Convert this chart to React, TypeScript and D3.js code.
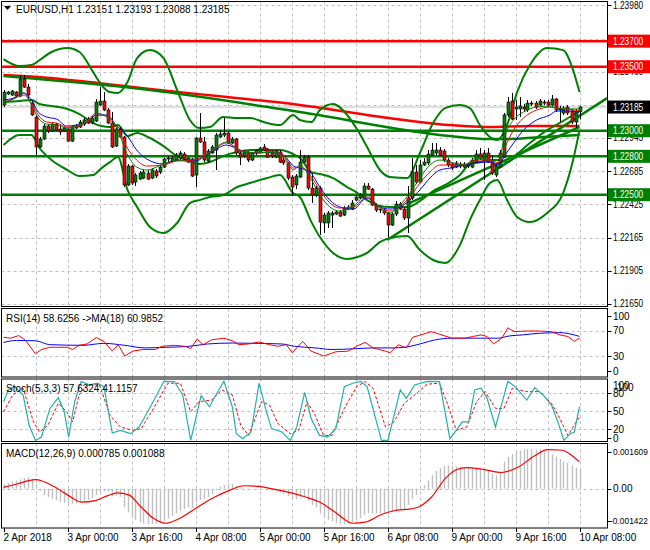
import React from "react";
import * as d3 from "d3";

// ---------------- DATA ----------------
const timeLabels = ["2 Apr 2018", "3 Apr 00:00", "3 Apr 16:00", "4 Apr 08:00", "5 Apr 00:00", "5 Apr 16:00", "6 Apr 08:00", "9 Apr 00:00", "9 Apr 16:00", "10 Apr 08:00"];
const timeLabelBars = [0, 16, 32, 48, 64, 80, 96, 112, 128, 144];

const priceTickLabels = ["1.23980", "1.23720", "1.23460", "1.23200", "1.22945", "1.22685", "1.22425", "1.22165", "1.21905", "1.21650"];
// labels fully hidden behind the coloured price tags in the reference
const hiddenTickLabels = ["1.23720", "1.23200"];

const openP = [1.23201,1.23287,1.23279,1.23302,1.23271,1.23404,1.23341,1.23216,1.23107,1.22873,1.22935,1.23037,1.22998,1.23052,1.23013,1.22998,1.23013,1.22919,1.23021,1.23029,1.23052,1.23091,1.23060,1.23076,1.23201,1.23232,1.23162,1.23060,1.22880,1.23013,1.22951,1.22576,1.22724,1.22599,1.22622,1.22630,1.22669,1.22630,1.22685,1.22677,1.22716,1.22779,1.22763,1.22771,1.22787,1.22818,1.22755,1.22779,1.22654,1.22943,1.22912,1.22763,1.22826,1.22849,1.22951,1.22966,1.22982,1.22904,1.22935,1.22826,1.22802,1.22826,1.22771,1.22826,1.22833,1.22873,1.22857,1.22833,1.22794,1.22833,1.22771,1.22748,1.22638,1.22576,1.22638,1.22755,1.22794,1.22552,1.22497,1.22552,1.22279,1.22279,1.22341,1.22349,1.22365,1.22341,1.22388,1.22388,1.22458,1.22474,1.22482,1.22568,1.22544,1.22419,1.22380,1.22380,1.22357,1.22263,1.22349,1.22427,1.22388,1.22318,1.22474,1.22677,1.22599,1.22732,1.22748,1.22810,1.22826,1.22849,1.22841,1.22771,1.22740,1.22716,1.22740,1.22716,1.22732,1.22716,1.22755,1.22818,1.22771,1.22826,1.22771,1.22654,1.22716,1.22794,1.23123,1.23232,1.23170,1.23170,1.23185,1.23162,1.23209,1.23216,1.23201,1.23224,1.23224,1.23201,1.23248,1.23162,1.23138,1.23185,1.23154,1.23068,1.23151];
const highP = [1.23318,1.23310,1.23318,1.23310,1.23435,1.23435,1.23365,1.23240,1.23123,1.22951,1.23052,1.23052,1.23068,1.23060,1.23044,1.23029,1.23021,1.23037,1.23052,1.23084,1.23099,1.23107,1.23115,1.23248,1.23341,1.23302,1.23177,1.23146,1.23029,1.23029,1.22959,1.22740,1.22732,1.22669,1.22685,1.22701,1.22693,1.22708,1.22701,1.22732,1.22787,1.22802,1.22802,1.22826,1.22841,1.22833,1.22794,1.22787,1.22951,1.23138,1.22951,1.22857,1.22888,1.22982,1.23005,1.23099,1.22998,1.22951,1.22943,1.22833,1.22849,1.22841,1.22833,1.22857,1.22873,1.22896,1.22865,1.22849,1.22849,1.22849,1.22787,1.22755,1.22654,1.22662,1.22849,1.22810,1.22810,1.22669,1.22568,1.22568,1.22357,1.22372,1.22372,1.22380,1.22380,1.22411,1.22419,1.22458,1.22497,1.22513,1.22591,1.22591,1.22552,1.22435,1.22404,1.22396,1.22365,1.22365,1.22451,1.22443,1.22404,1.22568,1.22787,1.22732,1.22771,1.22787,1.22849,1.22904,1.22904,1.22873,1.22857,1.22787,1.22755,1.22763,1.22755,1.22755,1.22748,1.22787,1.22849,1.22865,1.22849,1.22865,1.22810,1.22740,1.22849,1.23138,1.23263,1.23295,1.23240,1.23263,1.23209,1.23240,1.23232,1.23232,1.23248,1.23240,1.23240,1.23279,1.23255,1.23193,1.23193,1.23201,1.23170,1.23170,1.23193];
const lowP = [1.23185,1.23279,1.23271,1.23263,1.23263,1.23334,1.23240,1.23115,1.22810,1.22865,1.22927,1.22982,1.22990,1.22998,1.22966,1.22990,1.22912,1.22912,1.23013,1.23021,1.23037,1.23052,1.23052,1.23068,1.23193,1.23154,1.23052,1.22865,1.22873,1.22943,1.22560,1.22568,1.22576,1.22568,1.22615,1.22622,1.22615,1.22622,1.22630,1.22662,1.22708,1.22755,1.22755,1.22763,1.22771,1.22771,1.22748,1.22638,1.22560,1.22904,1.22755,1.22748,1.22818,1.22693,1.22943,1.22951,1.22896,1.22896,1.22810,1.22732,1.22787,1.22755,1.22763,1.22810,1.22826,1.22841,1.22787,1.22787,1.22787,1.22748,1.22732,1.22615,1.22490,1.22544,1.22630,1.22748,1.22537,1.22435,1.22482,1.22185,1.22201,1.22240,1.22240,1.22341,1.22326,1.22333,1.22380,1.22380,1.22451,1.22466,1.22474,1.22537,1.22411,1.22365,1.22357,1.22341,1.22169,1.22255,1.22333,1.22380,1.22302,1.22201,1.22458,1.22583,1.22591,1.22724,1.22732,1.22802,1.22810,1.22802,1.22755,1.22716,1.22693,1.22708,1.22708,1.22708,1.22708,1.22708,1.22748,1.22771,1.22615,1.22748,1.22654,1.22638,1.22708,1.22787,1.23107,1.23084,1.23084,1.23107,1.23146,1.23146,1.23193,1.23170,1.23193,1.23201,1.23185,1.23193,1.23146,1.23068,1.23123,1.23123,1.23052,1.23021,1.23088];
const closeP = [1.23302,1.23302,1.23310,1.23271,1.23404,1.23341,1.23279,1.23123,1.22873,1.22935,1.23037,1.22998,1.23052,1.23005,1.22990,1.23021,1.22919,1.23029,1.23037,1.23068,1.23084,1.23060,1.23099,1.23224,1.23232,1.23162,1.23060,1.22873,1.23013,1.22951,1.22576,1.22724,1.22591,1.22654,1.22669,1.22677,1.22622,1.22693,1.22646,1.22716,1.22779,1.22787,1.22787,1.22810,1.22826,1.22779,1.22787,1.22646,1.22943,1.22912,1.22771,1.22841,1.22873,1.22966,1.22974,1.22982,1.22904,1.22935,1.22826,1.22794,1.22833,1.22771,1.22826,1.22849,1.22865,1.22849,1.22794,1.22802,1.22841,1.22755,1.22748,1.22630,1.22560,1.22646,1.22755,1.22794,1.22552,1.22497,1.22552,1.22286,1.22341,1.22357,1.22357,1.22365,1.22333,1.22396,1.22404,1.22435,1.22482,1.22497,1.22568,1.22544,1.22419,1.22380,1.22388,1.22357,1.22263,1.22349,1.22427,1.22388,1.22318,1.22474,1.22677,1.22599,1.22732,1.22755,1.22818,1.22849,1.22849,1.22810,1.22771,1.22732,1.22708,1.22748,1.22724,1.22740,1.22724,1.22771,1.22818,1.22779,1.22826,1.22755,1.22669,1.22724,1.22826,1.23123,1.23224,1.23091,1.23185,1.23193,1.23170,1.23216,1.23216,1.23185,1.23232,1.23216,1.23201,1.23248,1.23162,1.23170,1.23177,1.23138,1.23068,1.23146,1.23185];

// thin moving averages (sampled)
const maBars = [0,2.5,5,7,8.7,10.8,13.3,15.8,18.3,20.8,23.3,25.8,28.3,30.8,33.3,35.8,40,43.3,47.5,51.6,55.8,59.1,63.3,67.5,70,72.5,74.1,76.6,79.1,81.6,84.1,87.5,90.8,94.1,96.6,99.1,101.6,104.1,106.6,109.1,111.6,115,118.3,121.6,123.7,125.4,127.5,130,133.3,136.6,138.3,140.8,144];
const maBlue = [1.23240,1.23255,1.23295,1.23240,1.23146,1.23107,1.23091,1.23037,1.23044,1.23068,1.23123,1.23123,1.23037,1.22966,1.22849,1.22779,1.22740,1.22771,1.22763,1.22826,1.22888,1.22849,1.22826,1.22833,1.22810,1.22724,1.22708,1.22677,1.22560,1.22458,1.22404,1.22388,1.22474,1.22404,1.22388,1.22404,1.22458,1.22537,1.22630,1.22693,1.22708,1.22732,1.22748,1.22755,1.22732,1.22810,1.22904,1.23005,1.23084,1.23123,1.23154,1.23154,1.23146];
const maRed = [1.23224,1.23248,1.23279,1.23216,1.23123,1.23068,1.23060,1.23029,1.23029,1.23068,1.23123,1.23115,1.23029,1.22873,1.22771,1.22724,1.22732,1.22763,1.22771,1.22833,1.22904,1.22849,1.22826,1.22841,1.22810,1.22708,1.22716,1.22654,1.22537,1.22435,1.22396,1.22404,1.22482,1.22404,1.22372,1.22411,1.22482,1.22591,1.22677,1.22732,1.22732,1.22732,1.22771,1.22771,1.22748,1.22873,1.23005,1.23099,1.23162,1.23185,1.23177,1.23170,1.23154];
const maGreen = [1.23216,1.23248,1.23295,1.23201,1.23099,1.23052,1.23044,1.23021,1.23037,1.23076,1.23138,1.23107,1.23021,1.22826,1.22716,1.22693,1.22740,1.22771,1.22755,1.22833,1.22912,1.22841,1.22826,1.22833,1.22794,1.22693,1.22732,1.22638,1.22497,1.22404,1.22372,1.22411,1.22497,1.22396,1.22357,1.22419,1.22513,1.22630,1.22732,1.22771,1.22755,1.22732,1.22787,1.22771,1.22771,1.22966,1.23084,1.23146,1.23185,1.23193,1.23177,1.23170,1.23170];

// Bollinger bands (sampled)
const bandBars = [0,4,7,9,12,16,19,22.4,24.5,26.6,28.6,31,33.4,36.6,40,43.4,46.6,49,51.6,54.9,58.4,61.6,65.9,69.1,72.4,74.1,77,79.1,82.4,85.9,88.5,90.9,94.1,96.6,100.9,104.1,107.4,110.4,114.1,116.6,119.1,121.6,123.4,125.9,128.4,131.6,135.9,139.9,142.4,144];
const bandUpper = [1.23560,1.23505,1.23513,1.23552,1.23615,1.23646,1.23615,1.23459,1.23357,1.23302,1.23295,1.23380,1.23568,1.23630,1.23568,1.23318,1.23084,1.23021,1.23029,1.23107,1.23099,1.23099,1.23060,1.23044,1.23123,1.23084,1.23068,1.23162,1.23209,1.23123,1.23005,1.22873,1.22693,1.22638,1.22630,1.22826,1.23060,1.23177,1.23201,1.23177,1.23044,1.22951,1.22927,1.23044,1.23302,1.23513,1.23646,1.23630,1.23474,1.23302];
const bandMiddle = [1.23224,1.23232,1.23240,1.23209,1.23193,1.23170,1.23130,1.23060,1.23037,1.23029,1.23044,1.22959,1.22982,1.22943,1.22880,1.22802,1.22763,1.22740,1.22755,1.22802,1.22833,1.22849,1.22849,1.22849,1.22818,1.22787,1.22677,1.22662,1.22630,1.22560,1.22513,1.22458,1.22411,1.22404,1.22404,1.22451,1.22529,1.22576,1.22654,1.22740,1.22755,1.22771,1.22771,1.22755,1.22818,1.22904,1.23005,1.23076,1.23123,1.23154];
const bandLower = [1.22888,1.22966,1.22966,1.22865,1.22771,1.22693,1.22646,1.22654,1.22708,1.22755,1.22794,1.22537,1.22404,1.22248,1.22201,1.22279,1.22435,1.22458,1.22482,1.22497,1.22560,1.22591,1.22630,1.22654,1.22513,1.22482,1.22286,1.22169,1.22045,1.21998,1.22013,1.22045,1.22130,1.22162,1.22177,1.22068,1.21990,1.21966,1.22106,1.22302,1.22458,1.22591,1.22615,1.22458,1.22326,1.22286,1.22357,1.22513,1.22771,1.23005];

// long moving averages
const longRedBars = [0,11.6,23.4,36.6,55.9,74.1,90.9,111.6,120.9,131.6,144];
const longRed = [1.23435,1.23412,1.23373,1.23326,1.23263,1.23201,1.23123,1.23044,1.23029,1.23037,1.23037];
const longGreenBars = [0,36.6,74.1,111.6,121,126,135,144];
const longGreen = [1.23427,1.23318,1.23146,1.22959,1.22935,1.22935,1.22951,1.22966];

// trend lines [bar, price]
const trendLineA = [[95.9, 1.22146], [150.9, 1.23255]];
const trendLineB = [[100.9, 1.22427], [144, 1.23029]];

const redLevels = [1.237, 1.235];
const greenLevels = [1.23, 1.228, 1.225];
const lastPrice = 1.23185;

// RSI
const rsiBars = [0,1.8,3.8,5.4,8,9.5,11.6,15.8,17.3,18.9,20.9,23.2,25.1,27.2,28.7,30.3,32.3,34.9,38,39.6,42.7,45.3,46.8,48.4,49.9,52,55.1,57.2,58.8,61.3,63.9,66.5,68.6,70.7,72.2,74.8,76.9,79,80,83.1,86.2,88.3,90.4,92.4,95.5,96.6,98.7,100.7,102.3,103.8,106.9,109,112.1,115.2,117.3,119.4,120.9,122.5,124.6,126.1,127.7,130.8,133.9,137,139.1,141.1,142.7,144];
const rsiVals = [59.7,58.2,62.3,55.6,33.6,40.3,43.8,43.8,40.3,46.9,49.0,59.2,53.1,37.7,47.9,30.0,37.7,40.3,40.3,45.4,46.9,45.4,41.8,56.7,47.9,55.6,58.2,54.1,47.9,49.0,52.1,47.9,45.4,47.9,35.1,53.1,37.7,32.6,30.0,36.7,37.7,45.4,51.5,42.8,37.7,35.1,47.9,42.8,59.7,62.3,68.5,64.4,58.2,58.2,60.8,63.3,60.8,49.0,58.2,74.6,68.5,69.5,69.5,68.5,63.3,60.8,53.1,58.6];
const rsiMaBars = [0,3.3,8,11.6,19.9,25.1,30.3,35.4,40.6,45.8,51,57.2,63.4,69.6,72.7,77.9,82.1,87.3,92.4,97.6,101.8,104.9,108,112.1,118.3,123.5,126.6,129.7,133.9,139.1,144];
const rsiMaVals = [51.5,54.6,54.1,47.9,46.9,50.0,46.9,42.8,43.8,44.9,49.0,50.5,50.0,49.0,45.4,42.8,40.3,41.3,42.8,42.8,45.4,50.5,55.6,58.2,58.2,58.2,61.8,63.3,65.9,66.9,61.0];

// Stochastic
const stochBars = [0,1.2,2.8,4.9,6.4,8,9.5,11.6,13.7,15.2,16.3,17.8,19.4,21.5,23.5,25.1,27.2,29.2,31.8,33.9,36.5,40.1,42.7,44.8,46.8,49.4,51.5,53.1,55.1,57.2,58.2,59.8,61.9,63.9,65.5,67,69.6,71.7,73.3,75.3,76.9,79,81,83.1,85.2,87.3,89.3,90.9,94.5,96.1,99.2,100.7,102.8,105.9,109,111.6,113.2,114.7,116.3,117.8,119.4,120.9,123,124.6,126.1,128.2,130.8,132.8,134.9,137,138.6,140.1,141.7,142.7,144];
const stochMain = [66.0,85.6,91.2,77.2,26.7,1.5,7.1,54.8,72.7,49.2,7.1,66.0,99.6,94.0,96.8,91.2,13.8,18.3,12.7,23.9,54.8,100,99.6,77.2,1.5,76.1,57.6,77.2,100,57.6,12.7,4.3,15.5,96.8,54.8,21.1,15.5,1.5,23.9,81.7,37.9,9.9,7.1,21.1,91.2,96.8,100,91.2,1.5,1.5,85.6,71.6,94.0,100,99.6,4.3,18.3,32.3,32.3,85.6,88.4,71.6,23.9,63.2,100,89.5,68.8,89.5,77.2,60.4,32.3,1.5,12.7,15.5,57.6];
const stochSigBars = [0,2.3,4.9,7.5,9,11.1,13.7,15.8,17.3,18.9,20.9,24,26.6,29.2,32.3,34.4,37.5,41.1,44.2,46.8,48.9,52,54.6,57.2,59.3,61.3,64.5,66.5,68.6,71.7,73.8,75.9,77.9,80,82.1,85.2,88.3,90.4,92.4,95.5,97.6,100.2,102.8,105.9,109,111.1,113.2,115.8,118.3,120.4,123,125.1,127.2,130.8,133.9,137,139.1,141.1,144];
const stochSig = [49.2,77.2,88.4,32.3,15.5,26.7,63.2,49.2,32.3,77.2,94.0,94.0,43.6,23.9,18.3,21.1,54.8,96.8,96.8,49.2,66.0,68.8,85.6,77.2,26.7,9.9,66.0,60.4,29.5,12.7,18.3,66.0,43.6,9.9,9.9,54.8,91.2,99.6,88.4,23.9,32.3,63.2,77.2,95.2,96.8,60.4,18.3,23.9,66.0,82.8,54.8,54.8,88.4,82.8,82.8,63.2,37.9,9.9,41.1];

// MACD
const macdHist = [0.00017,0.00023,0.00029,0.00034,0.00039,0.00044,0.00047,0.00042,0.00020,-0.00008,-0.00025,-0.00033,-0.00040,-0.00046,-0.00052,-0.00056,-0.00060,-0.00060,-0.00058,-0.00055,-0.00050,-0.00045,-0.00038,-0.00025,-0.00012,-0.00010,-0.00012,-0.00030,-0.00028,-0.00032,-0.00075,-0.00095,-0.00112,-0.00125,-0.00135,-0.00140,-0.00142,-0.00142,-0.00140,-0.00135,-0.00128,-0.00120,-0.00110,-0.00100,-0.00090,-0.00082,-0.00075,-0.00078,-0.00055,-0.00045,-0.00042,-0.00033,-0.00022,-0.00005,0.00008,0.00015,0.00020,0.00020,0.00012,0.00004,0.00002,-0.00004,0.00000,-0.00002,0.00000,0.00001,-0.00004,-0.00008,-0.00010,-0.00015,-0.00020,-0.00030,-0.00040,-0.00042,-0.00035,-0.00032,-0.00048,-0.00065,-0.00075,-0.00100,-0.00115,-0.00125,-0.00132,-0.00138,-0.00142,-0.00142,-0.00140,-0.00135,-0.00128,-0.00118,-0.00105,-0.00098,-0.00100,-0.00100,-0.00098,-0.00097,-0.00100,-0.00095,-0.00088,-0.00084,-0.00083,-0.00065,-0.00040,-0.00025,-0.00005,0.00015,0.00035,0.00055,0.00072,0.00085,0.00092,0.00095,0.00092,0.00090,0.00088,0.00086,0.00085,0.00084,0.00082,0.00080,0.00076,0.00072,0.00062,0.00055,0.00062,0.00110,0.00130,0.00140,0.00150,0.00155,0.00160,0.001609,0.00160,0.00160,0.00158,0.00155,0.00150,0.00140,0.00130,0.00120,0.00110,0.00105,0.00095,0.00085,0.000785];
const macdSigBars = [0,3.3,8,12.6,16.3,19.4,23,26.1,28.5,31.3,34.4,37.5,40.4,43.7,47.9,52,55.6,60.3,63.9,67.6,71.7,75.9,79,83.1,87.3,90.4,94.5,97.6,101.8,103.8,106.9,110.6,113.2,115.8,119.9,124.6,128.7,132.8,136,139.1,144];
const macdSig = [0.000055,0.000193,0.000371,0.000096,-0.000275,-0.000535,-0.000474,-0.000275,-0.000168,-0.000245,-0.000734,-0.001193,-0.001391,-0.001223,-0.000810,-0.000398,-0.000122,0.000124,0.000096,-0.000015,-0.000153,-0.000352,-0.000535,-0.000963,-0.001391,-0.001346,-0.001040,-0.000887,-0.000810,-0.000734,-0.000352,0.000440,0.000770,0.000853,0.000784,0.000660,0.000880,0.001334,0.001581,0.001568,0.001088];

// ---------------- LAYOUT ----------------
const FONT = "'Liberation Sans', Arial, sans-serif";
const FS = 10;
const LEFT = 1.5, RIGHT = 607.5;
const MAIN = { top: 1.5, bottom: 306.5 };
const RSIP = { top: 308.5, bottom: 377 };
const STOP = { top: 379, bottom: 441.5 };
const MACP = { top: 443.5, bottom: 528 };
const GREEN = "#008000";
const RED = "#ff0000";
const GRID = "#c0c0c0";

const x = d3.scaleLinear().domain([0, 144]).range([3.5, 579.5]);
const yMain = d3.scaleLinear().domain([1.2165, 1.2398]).range([303.5, 5.3]);
const yRsi = d3.scaleLinear().domain([0, 100]).range([375, 311.7]);
const ySto = d3.scaleLinear().domain([0, 100]).range([441.3, 381.3]);
const yMacd = d3.scaleLinear().domain([-0.001422, 0.001609]).range([524, 449]);

function linePath(bars: number[], vals: number[], y: (v: number) => number, curve: any = d3.curveLinear) {
  const gen = d3.line<number>().x((_, i) => x(bars[i])).y((v) => y(v)).curve(curve);
  return gen(vals) || "";
}

// approximate width of an axis number in the narrow MT4 font
function numWidth(t: string) {
  let w = 0;
  for (const ch of t) w += ch === "." ? 2.3 : ch === "-" ? 3 : 4.65;
  return w;
}

const gridBars = d3.range(8, 145, 8);

function VGrid({ top, bottom }: { top: number; bottom: number }) {
  return (
    <g>
      {gridBars.map((b) => (
        <line key={b} x1={Math.round(x(b)) + 0.5} x2={Math.round(x(b)) + 0.5} y1={top} y2={bottom} stroke={GRID} strokeDasharray="3,3" />
      ))}
    </g>
  );
}

function HLine({ y }: { y: number }) {
  return <line x1={LEFT} x2={RIGHT} y1={Math.round(y) + 0.5} y2={Math.round(y) + 0.5} stroke={GRID} strokeDasharray="3,3" />;
}

function AxisLabel({ y, text, tick = true }: { y: number; text: string; tick?: boolean }) {
  const long = text.length >= 7;
  const size = text.length >= 8 ? 9 : FS;
  return (
    <g>
      {tick && <line x1={RIGHT} x2={RIGHT + 4} y1={Math.round(y) + 0.5} y2={Math.round(y) + 0.5} stroke="#000" />}
      <text x={text.startsWith("-") ? 610 : 613} y={y} dy="0.35em" fontSize={size} fontFamily={FONT} fill="#000"
        {...(long ? { textLength: numWidth(text), lengthAdjust: "spacingAndGlyphs" } : {})}>{text}</text>
    </g>
  );
}

function TagLabel({ y, text, bg }: { y: number; text: string; bg: string }) {
  return (
    <g>
      <rect x={608} y={y - 6.5} width={42} height={13} fill={bg} />
      <text x={613} y={y} dy="0.35em" fontSize={FS} fontFamily={FONT} fill="#fff" textLength={numWidth(text)} lengthAdjust="spacingAndGlyphs">{text}</text>
    </g>
  );
}

export default function App() {
  const bars = d3.range(openP.length);
  return (
    <svg width={650} height={550} style={{ position: "absolute", left: 0, top: 0, background: "#fff" }}>
      <defs>
        <clipPath id="cMain"><rect x={LEFT} y={MAIN.top} width={RIGHT - LEFT} height={MAIN.bottom - MAIN.top} /></clipPath>
        <clipPath id="cRsi"><rect x={LEFT} y={RSIP.top} width={RIGHT - LEFT} height={RSIP.bottom - RSIP.top} /></clipPath>
        <clipPath id="cSto"><rect x={LEFT} y={STOP.top} width={RIGHT - LEFT} height={STOP.bottom - STOP.top} /></clipPath>
        <clipPath id="cMac"><rect x={LEFT} y={MACP.top} width={RIGHT - LEFT} height={MACP.bottom - MACP.top} /></clipPath>
      </defs>
      <rect x={0} y={0} width={650} height={550} fill="#fff" />

      {/* ---------- MAIN ---------- */}
      <g clipPath="url(#cMain)">
        <VGrid top={MAIN.top} bottom={MAIN.bottom} />
        {priceTickLabels.map((t) => <HLine key={t} y={yMain(+t)} />)}
        <line x1={LEFT} x2={RIGHT} y1={yMain(lastPrice)} y2={yMain(lastPrice)} stroke={GRID} strokeWidth={1} />
        {redLevels.map((v) => <line key={v} x1={LEFT} x2={RIGHT} y1={yMain(v)} y2={yMain(v)} stroke={RED} strokeWidth={2.5} />)}
        {greenLevels.map((v) => <line key={v} x1={LEFT} x2={RIGHT} y1={yMain(v)} y2={yMain(v)} stroke={GREEN} strokeWidth={2.5} />)}
        <path d={linePath(longRedBars, longRed, yMain, d3.curveMonotoneX)} fill="none" stroke={RED} strokeWidth={2.5} />
        <path d={linePath(longGreenBars, longGreen, yMain, d3.curveMonotoneX)} fill="none" stroke={GREEN} strokeWidth={2.5} />
        <path d={linePath(bandBars, bandUpper, yMain, d3.curveMonotoneX)} fill="none" stroke={GREEN} strokeWidth={2} />
        <path d={linePath(bandBars, bandMiddle, yMain, d3.curveMonotoneX)} fill="none" stroke={GREEN} strokeWidth={2} />
        <path d={linePath(bandBars, bandLower, yMain, d3.curveMonotoneX)} fill="none" stroke={GREEN} strokeWidth={2} />
        {[trendLineA, trendLineB].map((l, i) => (
          <line key={i} x1={x(l[0][0])} y1={yMain(l[0][1])} x2={x(l[1][0])} y2={yMain(l[1][1])} stroke={GREEN} strokeWidth={2.5} />
        ))}
        {bars.map((i) => {
          const cx = Math.round(x(i));
          const o = yMain(openP[i]), c = yMain(closeP[i]);
          const bull = closeP[i] >= openP[i];
          const top = Math.min(o, c), h = Math.max(1, Math.abs(o - c));
          return (
            <g key={i}>
              <line x1={cx + 0.5} x2={cx + 0.5} y1={yMain(highP[i])} y2={yMain(lowP[i])} stroke="#000" strokeWidth={1} />
              <rect x={cx - 1} y={top} width={3} height={h} fill={bull ? GREEN : RED} stroke="#000" strokeWidth={0.6} />
            </g>
          );
        })}
        <path d={linePath(maBars, maBlue, yMain, d3.curveMonotoneX)} fill="none" stroke="#0000ff" strokeWidth={1} />
        <path d={linePath(maBars, maRed, yMain, d3.curveMonotoneX)} fill="none" stroke={RED} strokeWidth={1} />
        <path d={linePath(maBars, maGreen, yMain, d3.curveMonotoneX)} fill="none" stroke={GREEN} strokeWidth={1} />
      </g>
      <rect x={LEFT} y={MAIN.top} width={RIGHT - LEFT} height={MAIN.bottom - MAIN.top} fill="none" stroke="#000" />
      <polygon points="4,6 11,6 7.5,10" fill="#000" />
      <text x={16} y={13} fontSize={FS} fontFamily={FONT} fill="#000">EURUSD,H1  1.23151 1.23193 1.23088 1.23185</text>
      {priceTickLabels.map((t) => hiddenTickLabels.includes(t)
        ? <line key={t} x1={RIGHT} x2={RIGHT + 4} y1={Math.round(yMain(+t)) + 0.5} y2={Math.round(yMain(+t)) + 0.5} stroke="#000" />
        : <AxisLabel key={t} y={yMain(+t)} text={t} />)}
      <TagLabel y={yMain(1.237)} text="1.23700" bg={RED} />
      <TagLabel y={yMain(1.235)} text="1.23500" bg={RED} />
      <TagLabel y={yMain(lastPrice)} text="1.23185" bg="#000" />
      <TagLabel y={yMain(1.23)} text="1.23000" bg={GREEN} />
      <TagLabel y={yMain(1.228)} text="1.22800" bg={GREEN} />
      <TagLabel y={yMain(1.225)} text="1.22500" bg={GREEN} />

      {/* ---------- RSI ---------- */}
      <g clipPath="url(#cRsi)">
        <VGrid top={RSIP.top} bottom={RSIP.bottom} />
        {[70, 30].map((v) => <HLine key={v} y={yRsi(v)} />)}
        <path d={linePath(rsiMaBars, rsiMaVals, yRsi, d3.curveMonotoneX)} fill="none" stroke="#0000ff" strokeWidth={1} />
        <path d={linePath(rsiBars, rsiVals, yRsi)} fill="none" stroke={RED} strokeWidth={1} />
      </g>
      <rect x={LEFT} y={RSIP.top} width={RIGHT - LEFT} height={RSIP.bottom - RSIP.top} fill="none" stroke="#000" />
      <text x={6} y={322} fontSize={FS} fontFamily={FONT} fill="#000">RSI(14) 58.6256  -&gt;MA(18) 60.9852</text>
      <AxisLabel y={316} text="100" />
      <AxisLabel y={yRsi(70)} text="70" />
      <AxisLabel y={yRsi(30)} text="30" />
      <AxisLabel y={371} text="0" />

      {/* ---------- STOCH ---------- */}
      <g clipPath="url(#cSto)">
        <VGrid top={STOP.top} bottom={STOP.bottom} />
        {[80, 50, 20].map((v) => <HLine key={v} y={ySto(v)} />)}
        <path d={linePath(stochSigBars, stochSig, ySto)} fill="none" stroke={RED} strokeWidth={1} strokeDasharray="3,2" />
        <path d={linePath(stochBars, stochMain, ySto)} fill="none" stroke="#20b2aa" strokeWidth={1.2} />
      </g>
      <rect x={LEFT} y={STOP.top} width={RIGHT - LEFT} height={STOP.bottom - STOP.top} fill="none" stroke="#000" />
      <text x={6} y={392} fontSize={FS} fontFamily={FONT} fill="#000">Stoch(5,3,3) 57.6324 41.1157</text>
      <text x={613} y={385} dy="0.35em" fontSize={FS} fontFamily={FONT} fill="#000">100</text>
      <text x={617} y={387} dy="0.35em" fontSize={FS} fontFamily={FONT} fill="#000">100</text>
      <AxisLabel y={ySto(80)} text="80" />
      <AxisLabel y={ySto(50)} text="50" />
      <AxisLabel y={ySto(20)} text="20" />
      <AxisLabel y={438} text="0" />

      {/* ---------- MACD ---------- */}
      <g clipPath="url(#cMac)">
        <VGrid top={MACP.top} bottom={MACP.bottom} />
        <HLine y={yMacd(0)} />
        {macdHist.map((v, i) => (
          <line key={i} x1={Math.round(x(i)) + 0.5} x2={Math.round(x(i)) + 0.5} y1={yMacd(0)} y2={yMacd(v)} stroke="#c0c0c0" strokeWidth={1.4} />
        ))}
        <path d={linePath(macdSigBars, macdSig, yMacd, d3.curveMonotoneX)} fill="none" stroke={RED} strokeWidth={1.2} />
      </g>
      <rect x={LEFT} y={MACP.top} width={RIGHT - LEFT} height={MACP.bottom - MACP.top} fill="none" stroke="#000" />
      <text x={6} y={457} fontSize={FS} fontFamily={FONT} fill="#000">MACD(12,26,9) 0.000785 0.001088</text>
      <AxisLabel y={452} text="0.001609" />
      <AxisLabel y={yMacd(0)} text="0.00" />
      <AxisLabel y={521} text="-0.001422" />

      {/* ---------- TIME AXIS ---------- */}
      {timeLabelBars.map((b, i) => {
        const tx = Math.round(x(b)) + 0.5;
        return (
          <g key={b}>
            <line x1={tx} x2={tx} y1={MACP.bottom} y2={MACP.bottom + 4} stroke="#000" />
            <text x={tx - 1} y={541} fontSize={FS} fontFamily={FONT} fill="#000">{timeLabels[i]}</text>
          </g>
        );
      })}
    </svg>
  );
}
